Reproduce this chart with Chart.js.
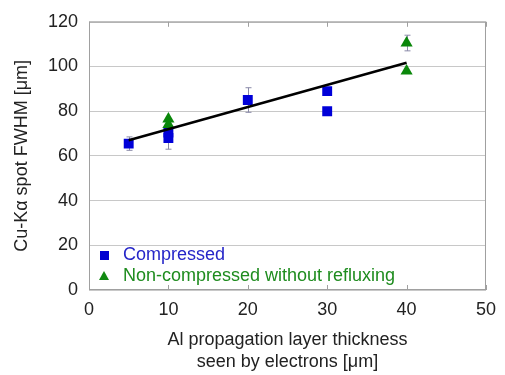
<!DOCTYPE html>
<html><head><meta charset="utf-8">
<script src="https://cdn.jsdelivr.net/npm/chart.js@4/dist/chart.umd.min.js"></script>
<style>html,body{margin:0;padding:0;background:#fff}#wrap{width:505px;height:375px}</style>
</head><body><div id="wrap"><canvas id="c" width="505" height="375"></canvas></div>
<script>
const compX = [5, 10, 10, 20, 30, 30];
const compY = [65.5, 68, 70.5, 85, 89, 80];
const compErr = [3, 5, 0, 5.5, 0, 0];
const nonX = [10, 10, 40, 40];
const nonY = [76.5, 74, 110.5, 98];
const nonErr = [0, 0, 3.5, 0];
const fitX = [5, 40];
const fitY = [67, 101.7];
const xTicks = [0, 10, 20, 30, 40, 50];
const yTicks = [0, 20, 40, 60, 80, 100, 120];
const legendLabels = ['Compressed', 'Non-compressed without refluxing'];

const FONT = "'Liberation Sans', Arial, sans-serif";
const pts = (xs, ys) => xs.map((x, i) => ({x: x, y: ys[i]}));

const errPlugin = {
  id: 'err',
  beforeDatasetsDraw(chart) {
    const ctx = chart.ctx, xs = chart.scales.x, ys = chart.scales.y;
    const sets = [[compX, compY, compErr], [nonX, nonY, nonErr]];
    ctx.save();
    ctx.strokeStyle = '#8a8aa8';
    ctx.lineWidth = 1;
    sets.forEach(([X, Y, E]) => {
      X.forEach((x, i) => {
        if (!E[i]) return;
        const px = Math.round(xs.getPixelForValue(x)) + 0.5;
        const t = ys.getPixelForValue(Y[i] + E[i]);
        const b = ys.getPixelForValue(Y[i] - E[i]);
        ctx.beginPath();
        ctx.moveTo(px, t); ctx.lineTo(px, b);
        ctx.moveTo(px - 3, t); ctx.lineTo(px + 3, t);
        ctx.moveTo(px - 3, b); ctx.lineTo(px + 3, b);
        ctx.stroke();
      });
    });
    ctx.restore();
  }
};

const framePlugin = {
  id: 'frame',
  afterDatasetsDraw(chart) {
    const ctx = chart.ctx, a = chart.chartArea, xs = chart.scales.x;
    ctx.save();
    ctx.strokeStyle = '#a0a0a0';
    ctx.lineWidth = 1;
    ctx.strokeRect(a.left + 0.5, a.top + 0.5, a.right - a.left - 1, a.bottom - a.top - 1);
    ctx.beginPath();
    xTicks.forEach(v => {
      const px = Math.round(xs.getPixelForValue(v)) + 0.5;
      ctx.moveTo(px, a.top); ctx.lineTo(px, a.top + 5);
      ctx.moveTo(px, a.bottom); ctx.lineTo(px, a.bottom - 5);
    });
    ctx.stroke();
    // legend
    ctx.font = '18px ' + FONT;
    ctx.textBaseline = 'middle';
    const lx = a.left + 15, tx = a.left + 34;
    const y1 = a.bottom - 35, y2 = a.bottom - 14;
    ctx.fillStyle = '#0000d0';
    ctx.fillRect(lx - 4, y1 - 4, 9, 9);
    ctx.fillStyle = '#2525c8';
    ctx.fillText(legendLabels[0], tx, y1);
    ctx.fillStyle = '#118a11';
    ctx.beginPath();
    ctx.moveTo(lx, y2 - 5); ctx.lineTo(lx + 5, y2 + 4); ctx.lineTo(lx - 5, y2 + 4); ctx.closePath();
    ctx.fill();
    ctx.fillStyle = '#1e8c1e';
    ctx.fillText(legendLabels[1], tx, y2);
    ctx.restore();
  }
};

new Chart(document.getElementById('c'), {
  type: 'scatter',
  data: {
    datasets: [
      {label: 'fit', type: 'line', data: pts(fitX, fitY), borderColor: '#000', borderWidth: 2.5, pointRadius: 0, fill: false, order: 0},
      {label: legendLabels[0], data: pts(compX, compY), pointStyle: 'rect', pointRadius: 7, backgroundColor: '#0000d8', borderColor: '#0000d8', borderWidth: 0, order: 2},
      {label: legendLabels[1], data: pts(nonX, nonY), pointStyle: 'triangle', pointRadius: 7, backgroundColor: '#0a870a', borderColor: '#0a870a', borderWidth: 0, order: 1}
    ]
  },
  options: {
    responsive: false, animation: false, devicePixelRatio: 1,
    layout: {padding: {left: 0, right: 17, top: 19, bottom: 0}},
    plugins: {legend: {display: false}, tooltip: {enabled: false}},
    scales: {
      x: {
        type: 'linear', min: 0, max: 50,
        afterBuildTicks: s => { s.ticks = xTicks.map(v => ({value: v})); },
        afterFit: s => { s.height = 85; },
        grid: {display: false, drawTicks: false},
        border: {display: false},
        ticks: {color: '#222', font: {family: FONT, size: 18}, padding: 9},
        title: {display: true, text: ['Al propagation layer thickness', 'seen by electrons [μm]'], color: '#222', font: {family: FONT, size: 18, lineHeight: 1.22}, padding: {top: 0, bottom: 2}}
      },
      y: {
        type: 'linear', min: 0, max: 120,
        afterBuildTicks: s => { s.ticks = yTicks.map(v => ({value: v})); },
        afterFit: s => { s.width = 89; },
        grid: {color: '#c8c8c8', lineWidth: 1, drawTicks: false},
        border: {display: false},
        ticks: {color: '#222', font: {family: FONT, size: 18}, padding: 11},
        title: {display: true, text: 'Cu-Kα spot FWHM [μm]', color: '#222', font: {family: FONT, size: 18}, padding: {top: 11, bottom: 0}}
      }
    }
  },
  plugins: [errPlugin, framePlugin]
});
</script></body></html>
